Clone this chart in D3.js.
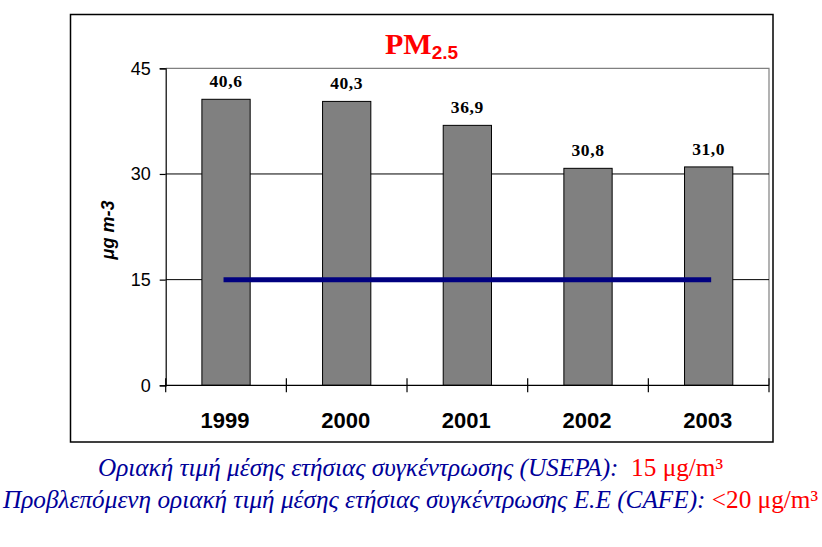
<!DOCTYPE html>
<html><head><meta charset="utf-8">
<script src="https://cdn.jsdelivr.net/npm/d3@7"></script>
<style>body{margin:0;background:#fff}svg{display:block}</style>
</head><body>
<svg id="c" width="822" height="547"></svg>
<script>
const years = ["1999","2000","2001","2002","2003"];
const values = [40.6, 40.3, 36.9, 30.8, 31.0];
const valueLabels = ["40,6","40,3","36,9","30,8","31,0"];
const limitValues = [15, 15, 15, 15, 15];
const yTicks = [0, 15, 30, 45];

const svg = d3.select("#c");
const L = 165.7, R = 769, T = 68.3, B = 385.3;

// outer frame
svg.append("rect").attr("x",70.5).attr("y",14.5).attr("width",702.5).attr("height",427.5)
  .attr("fill","none").attr("stroke","#000").attr("stroke-width",1.5);

const x = d3.scaleBand().domain(years).range([L,R]).paddingInner(0.6).paddingOuter(0.3);
const xb = d3.scaleBand().domain(years).range([L,R]);
const y = d3.scaleLinear().domain([0,45]).range([B,T]);

// plot border top/right gray
svg.append("path").attr("d",`M${L},${y(45)}H${R}V${B}`).attr("fill","none").attr("stroke","#808080").attr("stroke-width",1.2);

// gridlines
svg.append("g").selectAll("line").data(yTicks.filter(d=>d>0&&d<45)).join("line")
  .attr("x1",L).attr("x2",R).attr("y1",d=>y(d)).attr("y2",d=>y(d)).attr("stroke","#000").attr("stroke-width",1);

// bars
svg.append("g").selectAll("rect").data(values).join("rect")
  .attr("x",(d,i)=>x(years[i])).attr("width",x.bandwidth())
  .attr("y",d=>y(d)).attr("height",d=>B-y(d))
  .attr("fill","#808080").attr("stroke","#000").attr("stroke-width",1);

// value labels
svg.append("g").selectAll("text").data(values).join("text")
  .attr("x",(d,i)=>x(years[i])+x.bandwidth()/2).attr("y",d=>y(d)-12)
  .attr("text-anchor","middle").attr("font-family","Liberation Serif, serif").attr("font-weight","bold")
  .attr("font-size",17.5).attr("letter-spacing",0.6).text((d,i)=>valueLabels[i]);

// limit line
const line = d3.line().x((d,i)=>xb(years[i])+xb.bandwidth()/2).y(d=>y(d));
svg.append("path").datum(limitValues).attr("d",line).attr("fill","none")
  .attr("stroke","#000080").attr("stroke-width",5).attr("stroke-linecap","square");

// y axis
const ya = svg.append("g").attr("transform",`translate(${L},0)`)
  .call(d3.axisLeft(y).tickValues(yTicks).tickSize(6).tickPadding(9).tickFormat(d3.format("d")));
ya.select(".domain").attr("stroke","#000").attr("stroke-width",1.2);
ya.selectAll(".tick line").attr("stroke","#000").attr("stroke-width",1.2);
ya.selectAll("text").attr("font-family","Liberation Sans, Arial, sans-serif").attr("font-size",18).attr("fill","#000");

// x axis
const xa = svg.append("g").attr("transform",`translate(0,${B})`);
xa.append("line").attr("x1",L).attr("x2",R).attr("stroke","#000").attr("stroke-width",1.2);
xa.selectAll("line.t").data(years.concat(["end"])).join("line").attr("class","t")
  .attr("x1",(d,i)=>L+i*xb.bandwidth()).attr("x2",(d,i)=>L+i*xb.bandwidth())
  .attr("y1",-7).attr("y2",7).attr("stroke","#000").attr("stroke-width",1.2);
xa.selectAll("text").data(years).join("text")
  .attr("x",d=>xb(d)+xb.bandwidth()/2 - 1).attr("y",43)
  .attr("text-anchor","middle").attr("font-family","Liberation Sans, Arial, sans-serif")
  .attr("font-weight","bold").attr("font-size",22).text(d=>d);

// y label
svg.append("text").attr("transform","translate(114,230) rotate(-90)")
  .attr("text-anchor","middle").attr("font-family","Liberation Sans, Arial, sans-serif")
  .attr("font-weight","bold").attr("font-style","italic").attr("font-size",18).text("μg m-3");

// title
const t = svg.append("text").attr("x",385).attr("y",54).attr("fill","#ff0000").attr("font-weight","bold");
t.append("tspan").attr("font-family","Liberation Serif, serif").attr("font-size",30).text("PM");
t.append("tspan").attr("font-family","Liberation Sans, Arial, sans-serif").attr("font-size",19).attr("dy",5).text("2.5");

// footnotes
const lines = [
  {blue:"Οριακή τιμή μέσης ετήσιας συγκέντρωσης (USEPA):", red:"  15 μg/m³", x0:98, x1:723, yb:476},
  {blue:"Προβλεπόμενη οριακή τιμή μέσης ετήσιας συγκέντρωσης Ε.Ε (CAFE):", red:" <20 μg/m³", x0:3, x1:818, yb:508}
];
lines.forEach(l=>{
  const tx = svg.append("text").attr("x",l.x0).attr("y",l.yb).attr("font-family","Liberation Serif, serif").attr("font-size",25)
    .attr("xml:space","preserve").style("white-space","pre");
  tx.append("tspan").attr("fill","#000099").attr("font-style","italic").text(l.blue);
  tx.append("tspan").attr("fill","#ff0000").text(l.red);
  tx.attr("textLength",l.x1-l.x0).attr("lengthAdjust","spacingAndGlyphs");
});
</script>
</body></html>
